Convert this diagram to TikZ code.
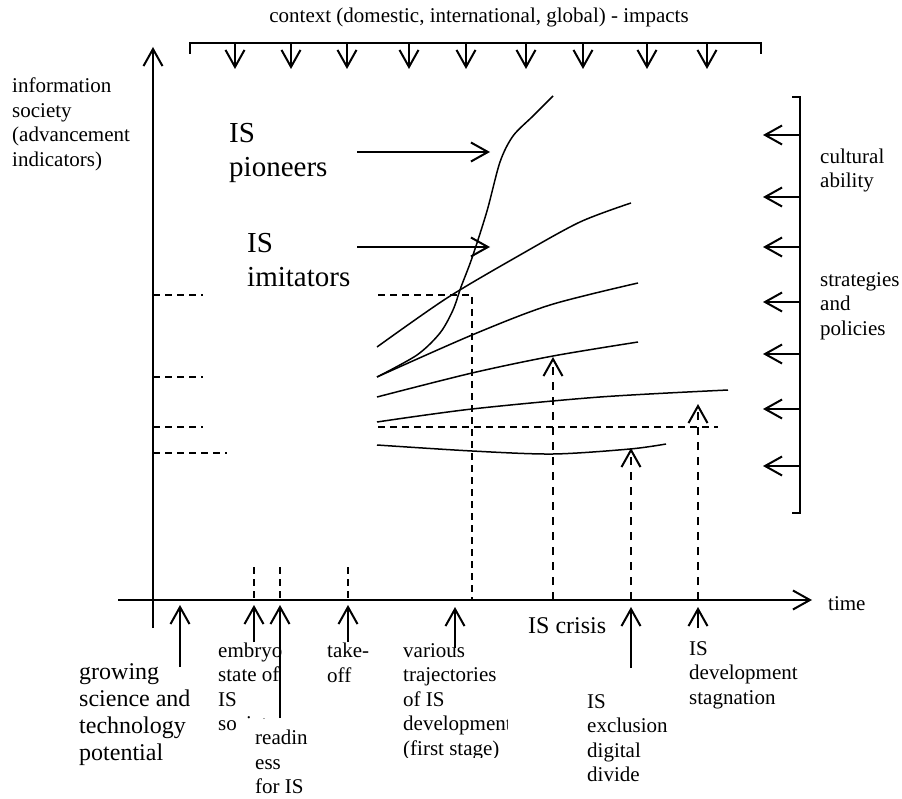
\documentclass[tikz,border=0pt]{standalone}
\usepackage{fontspec}
\setmainfont{Liberation Serif}
\usetikzlibrary{arrows.meta,positioning}

\begin{document}
\begin{tikzpicture}[
    x=1pt, y=-1pt,
    lbl/.style={font=\fontsize{21}{24.5}\selectfont, align=left, inner sep=0pt, anchor=north west},
    biglbl/.style={font=\fontsize{29}{34}\selectfont, align=left, inner sep=0pt, anchor=north west},
    midlbl/.style={font=\fontsize{24}{27}\selectfont, align=left, inner sep=0pt, anchor=north west},
    arr/.style={line width=2pt, -{Straight Barb[length=17pt,width=19pt]}},
    thindash/.style={line width=1.2pt, dash pattern=on 7pt off 5pt},
    thickdash/.style={line width=2pt, dash pattern=on 8pt off 7pt},
    trajectory/.style={line width=1.5pt}
]
    \useasboundingbox (0,0) rectangle (902,799);

    % Axes
    \coordinate (ybottom) at (153,628);
    \coordinate (ytop) at (153,47);
    \coordinate (xleft) at (118,600);
    \coordinate (xright) at (812,600);
    \draw[arr] (ybottom) -- (ytop);
    \draw[arr] (xleft) -- (xright);
    \node[font=\fontsize{21}{24.5}\selectfont, inner sep=0pt, anchor=base west] (time) at (828,610) {time};
    \node[lbl] (advance) at (12,78) {information\\society\\(advancement\\indicators)};

    % Context bracket (top)
    \node[font=\fontsize{21}{24.5}\selectfont, inner sep=0pt, anchor=base] (context) at (479,23)
        {context (domestic, international, global) - impacts};
    \coordinate (ctxL) at (190,54);
    \coordinate (ctxR) at (761,54);
    \draw[line width=2pt] (ctxL) -- ++(0,-11) -| (ctxR);
    \foreach \x in {235,291,347,409,466,526,583,647,707} {
        \coordinate (ctx\x) at (\x,43);
        \draw[arr] (ctx\x) -- ++(0,26);
    }

    % Culture / policy bracket (right)
    \coordinate (polT) at (792,97);
    \coordinate (polB) at (792,513);
    \draw[line width=2pt] (polT) -- ++(8,0) |- (polB);
    \foreach \y in {135,197,247,302,354,409,466} {
        \coordinate (pol\y) at (800,\y);
        \draw[arr] (pol\y) -- ++(-37,0);
    }
    \node[lbl] (culture) at (820,148.5) {cultural\\ability};
    \node[lbl] (policy) at (820,272) {strategies\\and\\policies};

    % Pioneers and imitators
    \node[biglbl] (pioneers) at (229,123.5) {IS\\pioneers};
    \node[biglbl] (imitators) at (247,233.5) {IS\\imitators};
    \coordinate (pionS) at (357,152);
    \coordinate (pionE) at (490,152);
    \coordinate (imitS) at (357,247);
    \coordinate (imitE) at (490,247);
    \draw[arr] (pionS) -- (pionE);
    \draw[arr] (imitS) -- (imitE);

    % Reference levels
    \foreach \y/\e in {295/203, 377/203, 427/203, 453/227}
        \draw[thindash] (153,\y) -- (\e,\y);
    \draw[thindash] (378,295) -- (472,295) -- (472,600);
    \draw[thindash] (378,427) -- (718,427);
    \foreach \x in {254,280,348}
        \draw[thindash] (\x,567) -- (\x,600);

    % Trajectories
    \draw[trajectory] plot[smooth] coordinates {(377,377) (417,355) (440,333) (453,310) (461,287)
        (472,258) (487,211) (500,162) (513,136) (533,116) (553,96)};
    \draw[trajectory] plot[smooth] coordinates {(377,347) (447,298) (520,255) (580,222) (631,203)};
    \draw[trajectory] plot[smooth] coordinates {(377,377) (472,335) (550,305) (638,283)};
    \draw[trajectory] plot[smooth] coordinates {(377,397) (472,373) (553,356) (638,342)};
    \draw[trajectory] plot[smooth] coordinates {(377,422) (472,409) (600,397) (728,390)};
    \draw[trajectory] plot[smooth] coordinates {(377,445) (472,451) (553,454) (630,449) (666,444)};

    % Crisis, exclusion, stagnation
    \coordinate (crisisT) at (553,357);
    \coordinate (exclT) at (631,448);
    \coordinate (stagT) at (698,404);
    \draw[thickdash, arr] (553,600) -- (crisisT);
    \draw[thickdash, arr] (631,600) -- (exclT);
    \draw[thickdash, arr] (698,600) -- (stagT);

    % Stage labels under the time axis
    \node[midlbl] (growing) at (79,663.5) {growing\\science and\\technology\\potential};
    \begin{scope}
        \clip (205,630) -- (300,630) -- (300,718) -- (236,718) -- (236,745) -- (205,745) -- cycle;
        \node[lbl] (embryo) at (218,642.5) {embryo\\state of\\IS\\society};
    \end{scope}
    \node[lbl] (readiness) at (255,730) {readin\\ess\\for IS};
    \node[lbl] (takeoff) at (327,643) {take-\\off};
    \begin{scope}
        \clip (398,630) rectangle (507,757);
        \node[lbl] (various) at (403,643) {various\\trajectories\\of IS\\development\\(first stage)};
    \end{scope}
    \node[midlbl] (crisis) at (528,617.5) {IS crisis};
    \node[lbl] (exclusion) at (587,694) {IS\\exclusion\\digital\\divide};
    \node[lbl] (stagnation) at (689,641) {IS\\development\\stagnation};

    \foreach \x/\t/\s in {180/605/667, 254/605/642, 280/605/718, 348/605/642,
                          455/607/648, 631/607/668, 698/607/628} {
        \coordinate (tip\x) at (\x,\t);
        \coordinate (tail\x) at (\x,\s);
        \draw[arr] (tail\x) -- (tip\x);
    }
\end{tikzpicture}
\end{document}
